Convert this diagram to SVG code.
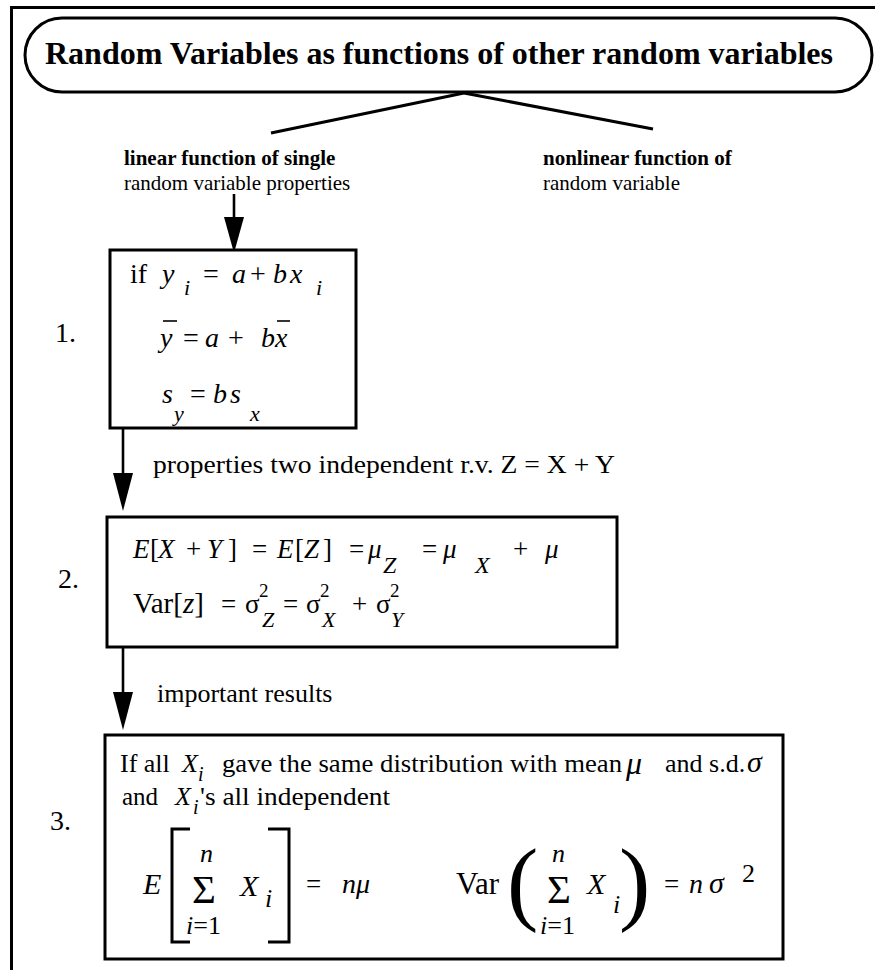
<svg xmlns="http://www.w3.org/2000/svg" width="875" height="970" viewBox="0 0 875 970">
<style>
text{font-family:"Liberation Serif","Times New Roman",serif;fill:#000}
.b{font-weight:bold}
.i{font-style:italic}
.box{fill:#fff;stroke:#000;stroke-width:3}
.ln{stroke:#000;stroke-width:3;fill:none}
.ar{stroke:#000;stroke-width:2.6;fill:none}
.hd{fill:#000;stroke:none}
.m{font-size:28px}
.s{font-size:22px}
</style>
<rect width="875" height="970" fill="#fff"/>
<path d="M11.5,975 L11.5,7.5 L880,7.5" class="ln"/>

<g id="title">
<rect x="25" y="18" width="847" height="74" rx="37" ry="37" class="box"/>
<text x="45" y="64" class="b" font-size="31" textLength="788" lengthAdjust="spacingAndGlyphs">Random Variables as functions of other random variables</text>
</g>

<g id="connectors">
<line x1="464" y1="93" x2="271" y2="133" class="ln"/>
<line x1="464" y1="93" x2="653" y2="129" class="ln"/>
<line x1="234" y1="194" x2="234" y2="220" class="ar"/>
<path d="M224,217 L244,217 L234,253 Z" class="hd"/>
<line x1="123" y1="428" x2="123" y2="476" class="ar"/>
<path d="M113,473 L133,473 L123,511 Z" class="hd"/>
<line x1="123" y1="647" x2="123" y2="695" class="ar"/>
<path d="M113,692 L133,692 L123,730 Z" class="hd"/>
</g>

<g id="linear">
<text x="124" y="165" font-size="21" class="b">linear function of single</text>
<text x="124" y="190" font-size="21">random variable properties</text>
</g>

<g id="nonlinear">
<text x="543" y="165" font-size="21" class="b">nonlinear function of</text>
<text x="543" y="190" font-size="21">random variable</text>
</g>

<g id="box1">
<rect x="110" y="250" width="246" height="178" class="box"/>
<text x="55" y="342" font-size="28">1.</text>
<text class="m" y="283"><tspan x="130">if</tspan><tspan x="162" class="i">y</tspan><tspan x="203">=</tspan><tspan x="232" class="i">a</tspan><tspan x="250">+</tspan><tspan x="273" class="i">b</tspan><tspan x="290" class="i">x</tspan></text>
<text class="s i" y="295"><tspan x="184">i</tspan><tspan x="316">i</tspan></text>
<text class="m" y="347"><tspan x="160" class="i">y</tspan><tspan x="183">=</tspan><tspan x="205" class="i">a</tspan><tspan x="228">+</tspan><tspan x="261" class="i">b</tspan><tspan x="275" class="i">x</tspan></text>
<line x1="163" y1="321" x2="177" y2="321" stroke="#000" stroke-width="1.6"/>
<line x1="277" y1="321" x2="290" y2="321" stroke="#000" stroke-width="1.6"/>
<text class="m" y="403"><tspan x="162" class="i">s</tspan><tspan x="190">=</tspan><tspan x="213" class="i">b</tspan><tspan x="230" class="i">s</tspan></text>
<text class="s i" y="421"><tspan x="174">y</tspan><tspan x="250">x</tspan></text>
</g>

<text x="153" y="473" font-size="26" textLength="462" lengthAdjust="spacingAndGlyphs">properties two independent r.v.  Z = X + Y</text>

<g id="box2">
<rect x="107" y="517" width="510" height="130" class="box"/>
<text x="58" y="588" font-size="28">2.</text>
<text font-size="27" y="558"><tspan x="133" class="i">E</tspan><tspan x="150">[</tspan><tspan x="158" class="i">X</tspan><tspan x="186">+</tspan><tspan x="207" class="i">Y</tspan><tspan x="228">]</tspan><tspan x="252">=</tspan><tspan x="277" class="i">E</tspan><tspan x="295">[</tspan><tspan x="304" class="i">Z</tspan><tspan x="323">]</tspan><tspan x="349">=</tspan><tspan x="368" class="i">μ</tspan><tspan x="422">=</tspan><tspan x="443" class="i">μ</tspan><tspan x="513">+</tspan><tspan x="545" class="i">μ</tspan></text>
<text font-size="24" class="i" y="573"><tspan x="383">Z</tspan><tspan x="475">X</tspan></text>
<text font-size="29" y="613"><tspan x="133">Var[</tspan><tspan class="i">z</tspan><tspan>]</tspan></text>
<text font-size="27" y="613"><tspan x="221">=</tspan><tspan x="245">σ</tspan><tspan x="283">=</tspan><tspan x="306">σ</tspan><tspan x="352">+</tspan><tspan x="376">σ</tspan></text>
<text font-size="19" y="597"><tspan x="259">2</tspan><tspan x="320">2</tspan><tspan x="390">2</tspan></text>
<text font-size="22" class="i" y="627"><tspan x="262">Z</tspan><tspan x="322">X</tspan><tspan x="391">Y</tspan></text>
</g>

<text x="157" y="702" font-size="26">important results</text>

<g id="box3">
<rect x="105" y="735" width="678" height="224" class="box"/>
<text x="50" y="830" font-size="28">3.</text>
<text x="120" y="772" font-size="26">If all</text>
<text x="182" y="772" font-size="26" class="i">X</text>
<text x="198" y="781" font-size="20" class="i">i</text>
<text x="222" y="772" font-size="26" textLength="400" lengthAdjust="spacingAndGlyphs">gave the same distribution with mean</text>
<text x="626" y="774" font-size="32" class="i">μ</text>
<text x="665" y="772" font-size="26">and s.d.</text>
<text x="747" y="772" font-size="30" class="i">σ</text>
<text x="122" y="805" font-size="25">and</text>
<text x="175" y="805" font-size="26" class="i">X</text>
<text x="193" y="814" font-size="20" class="i">i</text>
<text x="200" y="805" font-size="25" textLength="190" lengthAdjust="spacingAndGlyphs">'s all independent</text>

<text x="143" y="894" font-size="30" class="i">E</text>
<path d="M190,829 L172,829 L172,942 L190,942 M268,829 L289,829 L289,942 L268,942" stroke="#000" stroke-width="3" fill="none"/>
<text x="200" y="862" font-size="26" class="i">n</text>
<text x="192" y="903" font-size="41">Σ</text>
<text x="186" y="934" font-size="26"><tspan class="i">i</tspan>=1</text>
<text x="240" y="896" font-size="30" class="i">X</text>
<text x="265" y="907" font-size="26" class="i">i</text>
<text x="306" y="893" font-size="27">=</text>
<text x="342" y="893" font-size="28" class="i">nμ</text>

<text x="456" y="894" font-size="31">Var</text>
<text x="507" y="913" font-size="94">(</text>
<text x="552" y="862" font-size="26" class="i">n</text>
<text x="547" y="903" font-size="41">Σ</text>
<text x="540" y="934" font-size="26"><tspan class="i">i</tspan>=1</text>
<text x="587" y="894" font-size="30" class="i">X</text>
<text x="613" y="913" font-size="26" class="i">i</text>
<text x="619" y="913" font-size="94">)</text>
<text x="664" y="893" font-size="27">=</text>
<text x="689" y="893" font-size="28" class="i">n</text>
<text x="709" y="893" font-size="30" class="i">σ</text>
<text x="742" y="882" font-size="26">2</text>
</g>
</svg>
